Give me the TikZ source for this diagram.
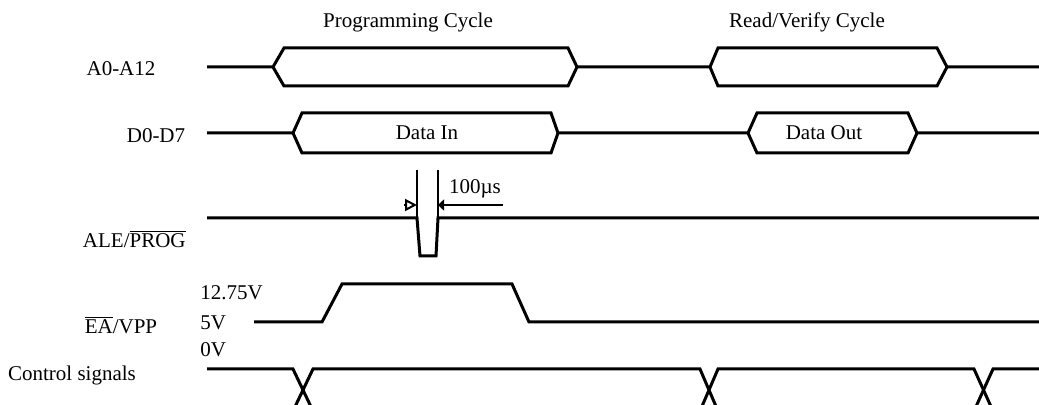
\documentclass[tikz,border=0pt]{standalone}
\usepackage{fontspec}
\setmainfont{Liberation Serif}
\usetikzlibrary{arrows.meta}

\begin{document}
\begin{tikzpicture}[x=0.5pt,y=-0.5pt,font=\fontsize{10.5}{12}\selectfont]
\tikzset{wave/.style={line width=1.5pt}, tick/.style={line width=1pt}, lbl/.style={inner sep=0pt}}
\useasboundingbox (0,0) rectangle (1039,405);
\clip (0,0) rectangle (1039,405);
\node[lbl] (PC) at (408,22) {Programming Cycle};
\node[lbl] (RV) at (807,22) {Read/Verify Cycle};
\node[lbl] (A) at (121,69) {A0-A12};
\node[lbl] (D) at (156,136) {D0-D7};
\node[lbl,anchor=east] (ALE) at (186,239) {ALE/$\overline{\mbox{PROG}}$};
\node[lbl] (EA) at (121,325) {$\overline{\mbox{EA}}$/VPP};
\node[lbl] (CS) at (72,375) {Control signals};
\node[lbl,anchor=west] (V12) at (200,293) {12.75V};
\node[lbl,anchor=west] (V5) at (200,323) {5V};
\node[lbl,anchor=west] (V0) at (200,350) {0V};
\node[lbl] (DI) at (427,133) {Data In};
\node[lbl] (DO) at (824,133) {Data Out};
\node[lbl] (T) at (475,189) {100µs};
\draw[wave] (207,67) -- (273,67) -- (284,48) -- (568,48) -- (577,67) -- (710,67) -- (718,48) -- (937,48) -- (947,67) -- (1039,67); % address bus, upper edge
\draw[wave] (273,67) -- (284,86) -- (568,86) -- (577,67);
\draw[wave] (710,67) -- (718,86) -- (937,86) -- (947,67);
\draw[wave] (207,133) -- (293,133) -- (302,113) -- (551,113) -- (558,133) -- (748,133) -- (757,113) -- (908,113) -- (917,133) -- (1039,133); % data bus, upper edge
\draw[wave] (293,133) -- (302,153) -- (551,153) -- (558,133);
\draw[wave] (748,133) -- (757,153) -- (908,153) -- (917,133);
\draw[wave] (207,218) -- (417,218) -- (420,256) -- (436,256) -- (438,218) -- (1039,218); % prog pulse
\draw[tick] (417,170) -- (417,218); % marks for the pulse width
\draw[tick] (438,170) -- (438,218);
\draw[tick,-{Triangle[open,length=6pt,width=6pt]}] (404,205) -- (417,205);
\draw[tick,-{Triangle[length=3pt,width=5.5pt]}] (503,205) -- (438,205);
\draw[wave] (254,322) -- (322,322) -- (342,284) -- (512,284) -- (529,322) -- (1039,322); % vpp
\draw[wave] (207,369) -- (293,369) -- (313,411); % control signals
\draw[wave] (293,411) -- (313,369) -- (700,369) -- (718,411);
\draw[wave] (700,411) -- (718,369) -- (974,369) -- (993,411);
\draw[wave] (974,411) -- (993,369) -- (1039,369);
\end{tikzpicture}
\end{document}
